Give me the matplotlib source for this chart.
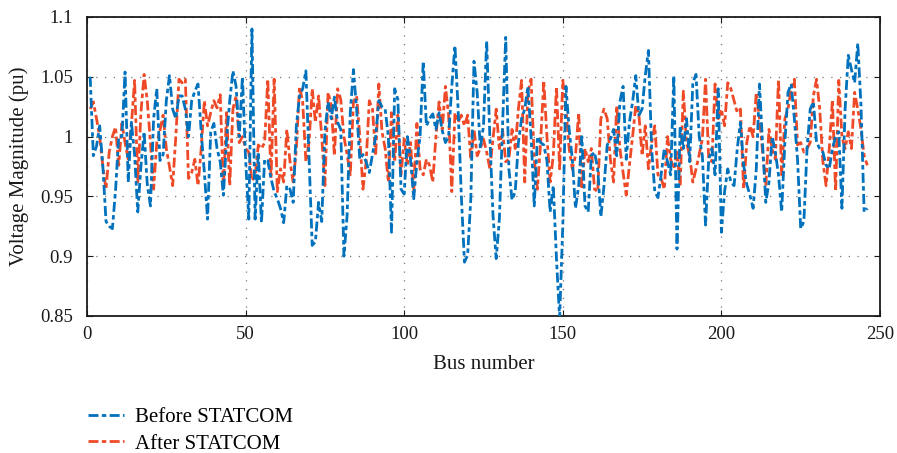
import numpy as np
import matplotlib
matplotlib.use("Agg")
import matplotlib.pyplot as plt

# voltage per bus
before_statcom = [
    1.050, 0.984, 0.992, 1.009, 0.975, 0.929, 0.925, 0.923, 0.955, 1.000,
    1.000, 1.054, 0.962, 1.012, 0.985, 0.937, 0.975, 1.004, 0.960, 0.942,
    1.015, 1.040, 0.980, 0.985, 1.030, 1.051, 1.023, 1.015, 1.034, 1.034,
    1.023, 1.000, 1.030, 1.038, 1.044, 1.004, 0.970, 0.931, 1.004, 1.011,
    0.990, 0.979, 0.951, 0.998, 1.030, 1.055, 1.042, 1.000, 1.050, 0.981,
    0.931, 1.090, 0.931, 0.987, 0.928, 0.981, 0.980, 0.965, 0.954, 0.948,
    0.940, 0.928, 0.959, 0.956, 0.945, 1.009, 1.034, 1.040, 1.055, 0.981,
    0.909, 0.912, 0.945, 0.929, 1.004, 1.029, 1.015, 1.033, 1.012, 1.006,
    0.900, 0.934, 1.020, 1.056, 1.023, 0.981, 0.985, 0.979, 0.970, 0.985,
    1.000, 1.030, 1.025, 1.023, 1.000, 0.920, 1.040, 1.031, 0.956, 0.952,
    1.000, 0.981, 0.948, 0.979, 1.000, 1.063, 1.009, 1.015, 1.019, 1.006,
    1.020, 1.005, 0.995, 1.000, 1.042, 1.076, 1.023, 0.951, 0.895, 0.901,
    0.948, 1.063, 1.037, 0.990, 1.009, 1.080, 1.000, 0.934, 0.898, 0.931,
    1.009, 1.083, 0.973, 0.947, 0.954, 0.995, 1.015, 1.023, 1.042, 1.000,
    0.942, 1.000, 0.995, 0.993, 0.980, 0.937, 0.959, 0.898, 0.848, 0.926,
    1.042, 1.006, 0.981, 0.940, 0.959, 1.000, 0.942, 0.937, 0.984, 0.987,
    0.973, 0.933, 0.959, 0.993, 0.998, 1.006, 0.984, 1.029, 1.042, 0.981,
    1.012, 1.029, 1.051, 1.018, 1.023, 1.051, 1.072, 0.990, 0.954, 0.949,
    0.968, 0.990, 0.979, 0.968, 1.051, 0.906, 1.009, 0.990, 1.015, 0.979,
    1.045, 1.052, 1.000, 0.984, 0.926, 0.981, 0.990, 0.968, 1.040, 0.920,
    0.954, 0.973, 0.962, 0.959, 0.990, 1.012, 0.976, 0.960, 0.951, 0.940,
    0.973, 1.044, 0.993, 0.945, 0.962, 1.000, 0.987, 0.968, 0.937, 0.995,
    1.037, 1.044, 1.015, 0.981, 0.923, 0.929, 0.990, 1.023, 1.029, 0.995,
    0.990, 0.987, 0.976, 0.973, 0.990, 1.000, 1.004, 0.940, 1.023, 1.068,
    1.056, 1.045, 1.078, 1.026, 0.937, 0.940,
]

after_statcom = [
    1.023, 1.029, 1.015, 1.000, 0.975, 0.956, 0.987, 1.000, 1.008, 0.976,
    1.011, 0.995, 0.981, 1.010, 1.047, 0.962, 1.020, 1.052, 1.030, 0.995,
    0.956, 0.995, 1.005, 1.018, 0.990, 0.975, 0.959, 1.000, 1.048, 1.045,
    1.048, 0.965, 0.970, 0.981, 0.959, 0.990, 1.030, 1.009, 1.020, 1.030,
    1.024, 1.035, 0.956, 1.020, 0.959, 1.023, 1.034, 0.995, 1.000, 0.990,
    0.987, 0.963, 0.967, 0.993, 0.990, 0.995, 1.048, 0.965, 1.048, 0.954,
    0.973, 0.962, 1.006, 0.979, 0.962, 0.990, 1.042, 1.029, 0.979, 0.995,
    1.040, 1.012, 1.034, 1.000, 0.959, 1.037, 1.026, 0.984, 1.040, 1.031,
    1.000, 0.985, 0.968, 1.029, 1.034, 1.000, 0.956, 0.979, 1.030, 1.023,
    0.984, 1.044, 1.004, 0.990, 0.962, 1.020, 0.979, 1.018, 0.968, 0.998,
    0.976, 0.995, 0.954, 1.011, 0.973, 0.968, 0.981, 0.976, 0.962, 1.000,
    1.029, 1.006, 1.042, 1.018, 0.954, 1.020, 1.012, 1.018, 1.009, 1.018,
    0.981, 1.006, 0.984, 0.990, 0.998, 0.987, 0.973, 0.998, 1.023, 0.990,
    1.006, 0.979, 0.981, 1.006, 0.990, 1.023, 1.047, 0.962, 1.037, 1.048,
    0.981, 0.956, 0.995, 1.047, 1.000, 0.962, 0.984, 1.042, 0.973, 1.047,
    1.023, 0.990, 0.973, 0.984, 1.020, 0.956, 0.990, 0.979, 0.990, 0.956,
    0.954, 1.015, 1.023, 1.015, 0.981, 0.962, 1.026, 0.990, 0.970, 0.951,
    0.976, 1.000, 1.026, 1.018, 0.984, 1.009, 0.973, 0.995, 1.009, 0.968,
    0.965, 0.956, 1.000, 0.981, 0.973, 0.987, 0.959, 1.038, 0.995, 0.984,
    0.962, 0.973, 0.985, 0.998, 1.048, 0.981, 0.979, 1.044, 1.015, 1.023,
    1.009, 1.045, 1.040, 1.030, 1.020, 1.023, 0.956, 0.995, 1.009, 1.000,
    1.037, 1.015, 0.987, 0.959, 1.006, 0.990, 0.981, 1.048, 0.968, 1.015,
    1.023, 1.040, 1.048, 0.993, 0.995, 0.987, 0.990, 0.995, 1.034, 1.048,
    1.023, 0.979, 0.959, 0.990, 1.031, 0.954, 1.047, 1.000, 0.990, 1.004,
    0.990, 1.037, 1.023, 1.006, 0.984, 0.976,
]

x_ticks = [0, 50, 100, 150, 200, 250]
y_ticks = [0.85, 0.9, 0.95, 1.0, 1.05, 1.1]
y_tick_labels = ["0.85", "0.9", "0.95", "1", "1.05", "1.1"]

BLUE = "#0072BD"
RED = "#EF4A28"
INK = "#1A1A1A"
DASHDOT = (0, (3.6, 1.2, 1.6, 1.2))

plt.rcParams["font.family"] = ["Liberation Serif", "DejaVu Serif"]

fig = plt.figure(figsize=(8.97, 4.53), dpi=100)
ax = fig.add_axes([87 / 897, 1 - 316 / 453, 793 / 897, 299 / 453])

bus_b = np.arange(1, len(before_statcom) + 1)
bus_a = np.arange(1, len(after_statcom) + 1)
ax.plot(bus_b, before_statcom, color=BLUE, lw=2.0, ls=DASHDOT, label="Before STATCOM", zorder=3)
ax.plot(bus_a, after_statcom, color=RED, lw=2.0, ls=DASHDOT, label="After STATCOM", zorder=2)

ax.set_xlim(0, 250)
ax.set_ylim(0.85, 1.1)
ax.set_xticks(x_ticks)
ax.set_yticks(y_ticks)
ax.set_yticklabels(y_tick_labels)
ax.tick_params(axis="x", pad=7)
ax.tick_params(axis="y", pad=10)
ax.tick_params(direction="in", top=True, right=True, length=4, width=0.8,
               labelsize=13.5, colors=INK)
ax.grid(True, color="#777777", ls=(0, (1, 6)), lw=0.9)
for sp in ax.spines.values():
    sp.set_linewidth(1.3)
    sp.set_color(INK)

ax.set_xlabel("Bus number", fontsize=15, color=INK, labelpad=9)
ax.set_ylabel("Voltage Magnitude (pu)", fontsize=15, color=INK, labelpad=8)

fig.legend(loc="upper left", bbox_to_anchor=(80 / 897, 1 - 399 / 453),
           frameon=False, fontsize=15, handlelength=1.7, handletextpad=0.55,
           labelspacing=0.35, borderaxespad=0)

fig.savefig("out.png", dpi=100)
